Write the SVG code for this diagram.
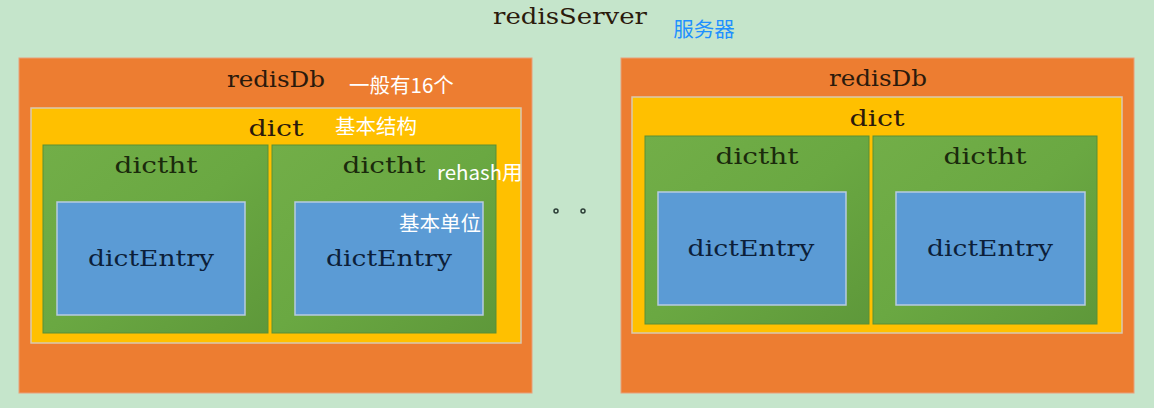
<svg xmlns="http://www.w3.org/2000/svg" width="1154" height="408" viewBox="0 0 1154 408">
<defs>
<linearGradient id="gG" x1="0" y1="0" x2="1" y2="1">
<stop offset="0" stop-color="#72ae48"/>
<stop offset="0.5" stop-color="#6aa842"/>
<stop offset="1" stop-color="#5e983a"/>
</linearGradient>
<style>
.db{fill:#ed7d31;stroke:#e9a07a;stroke-width:1}
.dict{fill:#ffc000;stroke:#d9c9b0;stroke-width:1.5}
.ht{fill:url(#gG);stroke:#5a8f34;stroke-width:1}
.en{fill:#5b9bd5;stroke:#b8cbe0;stroke-width:1.5}
.m{font-family:"DejaVu Serif","Liberation Serif",serif;font-size:22px;text-anchor:middle}
.t1{fill:#2b1a0c}
.t2{fill:#1b2a0c}
.t3{fill:#0c1f3a}
.cn{font-family:"Noto Sans CJK SC","Noto Sans",sans-serif;font-size:20.5px;fill:#ffffff}
</style>
</defs>
<rect x="0" y="0" width="1154" height="408" fill="#c5e5cb"/>
<g id="server">
<text class="m t1" x="570" y="24" textLength="154" lengthAdjust="spacingAndGlyphs">redisServer</text>
<text x="704" y="37" style="font-family:'Noto Sans CJK SC','Noto Sans',sans-serif;font-size:20.5px;fill:#1e90ff;text-anchor:middle">服务器</text>
</g>
<g id="redisDb1">
<rect class="db" x="19" y="58" width="513" height="335"/>
<text class="m t1" x="276" y="87" textLength="98" lengthAdjust="spacingAndGlyphs">redisDb</text>
</g>
<g id="dict1">
<rect class="dict" x="31" y="108" width="490" height="235"/>
<text class="m t1" x="276" y="136" textLength="55" lengthAdjust="spacingAndGlyphs">dict</text>
</g>
<g id="dictht1a">
<rect class="ht" x="43" y="145" width="225" height="188"/>
<text class="m t2" x="156" y="173" textLength="83" lengthAdjust="spacingAndGlyphs">dictht</text>
</g>
<g id="dictht1b">
<rect class="ht" x="272" y="145" width="224" height="188"/>
<text class="m t2" x="384" y="173" textLength="83" lengthAdjust="spacingAndGlyphs">dictht</text>
</g>
<g id="dictEntry1a">
<rect class="en" x="57" y="202" width="188" height="113"/>
<text class="m t3" x="151" y="266" textLength="126" lengthAdjust="spacingAndGlyphs">dictEntry</text>
</g>
<g id="dictEntry1b">
<rect class="en" x="295" y="202" width="188" height="113"/>
<text class="m t3" x="389" y="266" textLength="126" lengthAdjust="spacingAndGlyphs">dictEntry</text>
</g>
<g id="notes">
<text class="cn" x="349" y="93">一般有16个</text>
<text class="cn" x="335" y="134">基本结构</text>
<text class="cn" x="437" y="180">rehash用</text>
<text class="cn" x="399" y="231">基本单位</text>
</g>
<g id="ellipsis" fill="none" stroke="#2d3f38" stroke-width="1.5">
<circle cx="556" cy="211" r="2"/>
<circle cx="583" cy="211" r="2"/>
</g>
<g id="redisDb2">
<rect class="db" x="621" y="58" width="513" height="335"/>
<text class="m t1" x="878" y="86" textLength="98" lengthAdjust="spacingAndGlyphs">redisDb</text>
</g>
<g id="dict2">
<rect class="dict" x="632" y="97" width="490" height="236"/>
<text class="m t1" x="877" y="126" textLength="55" lengthAdjust="spacingAndGlyphs">dict</text>
</g>
<g id="dictht2a">
<rect class="ht" x="645" y="136" width="224" height="188"/>
<text class="m t2" x="757" y="164" textLength="83" lengthAdjust="spacingAndGlyphs">dictht</text>
</g>
<g id="dictht2b">
<rect class="ht" x="873" y="136" width="224" height="188"/>
<text class="m t2" x="985" y="164" textLength="83" lengthAdjust="spacingAndGlyphs">dictht</text>
</g>
<g id="dictEntry2a">
<rect class="en" x="658" y="192" width="188" height="113"/>
<text class="m t3" x="751" y="256" textLength="127" lengthAdjust="spacingAndGlyphs">dictEntry</text>
</g>
<g id="dictEntry2b">
<rect class="en" x="896" y="192" width="189" height="113"/>
<text class="m t3" x="990" y="256" textLength="126" lengthAdjust="spacingAndGlyphs">dictEntry</text>
</g>
<g id="connectors"/>
</svg>
